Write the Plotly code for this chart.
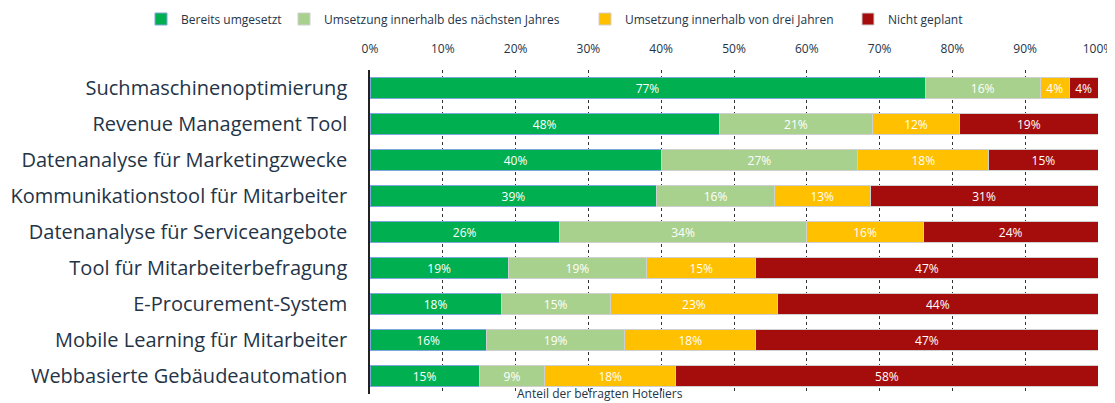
import plotly.graph_objects as go

categories = [
    "Suchmaschinenoptimierung",
    "Revenue Management Tool",
    "Datenanalyse für Marketingzwecke",
    "Kommunikationstool für Mitarbeiter",
    "Datenanalyse für Serviceangebote",
    "Tool für Mitarbeiterbefragung",
    "E-Procurement-System",
    "Mobile Learning für Mitarbeiter",
    "Webbasierte Gebäudeautomation",
]
bereits = [77, 48, 40, 39, 26, 19, 18, 16, 15]
naechstes_jahr = [16, 21, 27, 16, 34, 19, 15, 19, 9]
drei_jahre = [4, 12, 18, 13, 16, 15, 23, 18, 18]
nicht_geplant = [4, 19, 15, 31, 24, 47, 44, 47, 58]

series_names = [
    "Bereits umgesetzt",
    "Umsetzung innerhalb des nächsten Jahres",
    "Umsetzung innerhalb von drei Jahren",
    "Nicht geplant",
]
series_values = [bereits, naechstes_jahr, drei_jahre, nicht_geplant]
colors = ["#00b050", "#a9d18e", "#ffc000", "#a50d0d"]
outline = ["#7fa7db", "#d0d0d0", "#d0d0d0", "#d0d0d0"]
legend_ids = ["legend", "legend2", "legend3", "legend4"]

tick_vals = list(range(0, 101, 10))
tick_text = [f"{v}%" for v in tick_vals]

FONT = "Open Sans"
TEXT_COLOR = "#243447"
W, H = 1115, 403
OFF = 8  # page body margin offset
legend_x_px = [141 - OFF, 284 - OFF, 585 - OFF, 848 - OFF]

fig = go.Figure()
for name, vals, col, oc, lg in zip(series_names, series_values, colors, outline, legend_ids):
    fig.add_trace(go.Bar(
        y=categories, x=vals, name=name, orientation="h",
        marker=dict(color=col, line=dict(color=oc, width=1)),
        text=[f"{v}%" for v in vals],
        textposition="inside", insidetextanchor="middle",
        textangle=0, constraintext="none",
        textfont=dict(color="white", size=12, family=FONT),
        hoverinfo="skip", legend=lg, showlegend=True,
    ))

legend_layouts = {}
for lg, xp in zip(legend_ids, legend_x_px):
    legend_layouts[lg] = dict(
        orientation="h", xref="container", yref="container",
        x=xp / W, y=1 - (19 - OFF) / H, xanchor="left", yanchor="middle",
        font=dict(size=12, color=TEXT_COLOR, family=FONT),
        bgcolor="rgba(0,0,0,0)", visible=True,
    )

fig.update_layout(
    width=W, height=H, showlegend=True,
    barmode="stack", barnorm="percent", bargap=0.42,
    plot_bgcolor="white", paper_bgcolor="white",
    margin=dict(l=370 - OFF, r=17 + OFF, t=70 - OFF, b=9 + OFF, autoexpand=False),
    font=dict(family=FONT, color=TEXT_COLOR),
    xaxis=dict(
        side="top", range=[0, 100], tickvals=tick_vals, ticktext=tick_text,
        showgrid=True, gridcolor="#333333", griddash="dot", gridwidth=1,
        zeroline=False, ticks="outside", ticklen=11, tickcolor="rgba(0,0,0,0)",
        tickfont=dict(size=12, color=TEXT_COLOR, family=FONT),
        fixedrange=True, automargin=False,
    ),
    yaxis=dict(
        autorange="reversed", showline=True, linecolor="#222222", linewidth=1.5,
        tickfont=dict(size=20, color=TEXT_COLOR, family=FONT),
        ticks="", ticklabelstandoff=17,
        fixedrange=True, automargin=False,
    ),
    annotations=[dict(
        text="Anteil der befragten Hoteliers", xref="paper", yref="paper",
        x=0.316, y=0.034, xanchor="center", yanchor="top", showarrow=False,
        font=dict(size=12, color=TEXT_COLOR, family=FONT),
    )],
    **legend_layouts,
)

fig.write_html("out.html")
